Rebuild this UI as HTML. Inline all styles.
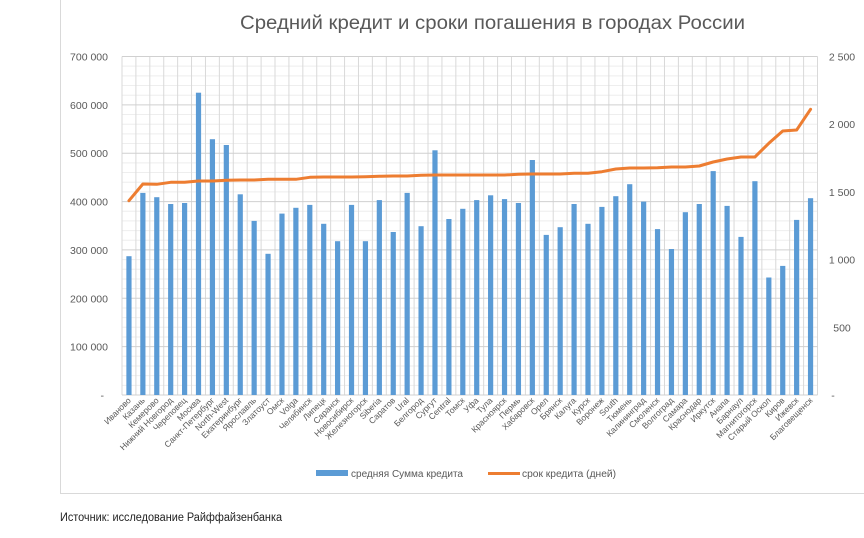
<!DOCTYPE html>
<html><head><meta charset="utf-8"><style>
html,body{margin:0;padding:0;background:#fff;width:864px;height:538px;overflow:hidden}
svg{display:block}
text{font-family:"Liberation Sans","Noto Sans CJK SC",sans-serif;fill:#595959}
</style></head><body>
<svg width="864" height="538" viewBox="0 0 864 538" xmlns="http://www.w3.org/2000/svg">
<rect width="864" height="538" fill="#fff"/>
<path d="M60.5 0V493.5H864" fill="none" stroke="#d9d9d9" stroke-width="1"/>
<text x="492.5" y="29" font-size="19" text-anchor="middle" textLength="505" lengthAdjust="spacingAndGlyphs">Средний кредит и сроки погашения в городах России</text>
<!-- minor gridlines -->
<path stroke="#eeeeee" stroke-width="1" fill="none" d="M122 66.17H817.5M122 75.84H817.5M122 85.52H817.5M122 95.19H817.5M122 114.53H817.5M122 124.2H817.5M122 133.87H817.5M122 143.54H817.5M122 162.88H817.5M122 172.55H817.5M122 182.23H817.5M122 191.9H817.5M122 211.24H817.5M122 220.91H817.5M122 230.58H817.5M122 240.26H817.5M122 259.6H817.5M122 269.27H817.5M122 278.94H817.5M122 288.61H817.5M122 307.96H817.5M122 317.63H817.5M122 327.3H817.5M122 336.97H817.5M122 356.31H817.5M122 365.98H817.5M122 375.66H817.5M122 385.33H817.5"/>
<!-- vertical gridlines -->
<path stroke="#d9d9d9" stroke-width="1" fill="none" d="M122 56.5V395M135.91 56.5V395M149.82 56.5V395M163.73 56.5V395M177.64 56.5V395M191.55 56.5V395M205.46 56.5V395M219.37 56.5V395M233.28 56.5V395M247.19 56.5V395M261.1 56.5V395M275.01 56.5V395M288.92 56.5V395M302.83 56.5V395M316.74 56.5V395M330.65 56.5V395M344.56 56.5V395M358.47 56.5V395M372.38 56.5V395M386.29 56.5V395M400.2 56.5V395M414.11 56.5V395M428.02 56.5V395M441.93 56.5V395M455.84 56.5V395M469.75 56.5V395M483.66 56.5V395M497.57 56.5V395M511.48 56.5V395M525.39 56.5V395M539.3 56.5V395M553.21 56.5V395M567.12 56.5V395M581.03 56.5V395M594.94 56.5V395M608.85 56.5V395M622.76 56.5V395M636.67 56.5V395M650.58 56.5V395M664.49 56.5V395M678.4 56.5V395M692.31 56.5V395M706.22 56.5V395M720.13 56.5V395M734.04 56.5V395M747.95 56.5V395M761.86 56.5V395M775.77 56.5V395M789.68 56.5V395M803.59 56.5V395M817.5 56.5V395"/>
<!-- major gridlines -->
<path stroke="#d0d0d0" stroke-width="1" fill="none" d="M122 56.5H817.5M122 104.86H817.5M122 153.21H817.5M122 201.57H817.5M122 249.93H817.5M122 298.29H817.5M122 346.64H817.5M122 395H817.5"/>
<!-- left axis labels -->
<g font-size="10.5" text-anchor="end">
<text x="108" y="60.5">700 000</text>
<text x="108" y="108.9">600 000</text>
<text x="108" y="157.2">500 000</text>
<text x="108" y="205.6">400 000</text>
<text x="108" y="253.9">300 000</text>
<text x="108" y="302.3">200 000</text>
<text x="108" y="350.6">100 000</text>
<text x="104" y="399">-</text>
</g>
<!-- right axis labels -->
<g font-size="10.5" text-anchor="middle">
<text x="842" y="60.5">2 500</text>
<text x="842" y="128.2">2 000</text>
<text x="842" y="195.9">1 500</text>
<text x="842" y="263.6">1 000</text>
<text x="842" y="331.3">500</text>
<text x="833" y="399">-</text>
</g>
<!-- bars -->
<g fill="#5b9bd5">
<rect x="126.36" y="256.2" width="5.2" height="138.8"/>
<rect x="140.27" y="192.9" width="5.2" height="202.1"/>
<rect x="154.18" y="197.2" width="5.2" height="197.8"/>
<rect x="168.09" y="204.0" width="5.2" height="191.0"/>
<rect x="182.0" y="203.0" width="5.2" height="192.0"/>
<rect x="195.91" y="92.7" width="5.2" height="302.3"/>
<rect x="209.82" y="139.2" width="5.2" height="255.8"/>
<rect x="223.73" y="145.0" width="5.2" height="250.0"/>
<rect x="237.64" y="194.3" width="5.2" height="200.7"/>
<rect x="251.55" y="220.9" width="5.2" height="174.1"/>
<rect x="265.46" y="253.8" width="5.2" height="141.2"/>
<rect x="279.37" y="213.6" width="5.2" height="181.4"/>
<rect x="293.28" y="207.8" width="5.2" height="187.2"/>
<rect x="307.19" y="204.9" width="5.2" height="190.1"/>
<rect x="321.1" y="223.8" width="5.2" height="171.2"/>
<rect x="335.01" y="241.2" width="5.2" height="153.8"/>
<rect x="348.92" y="204.9" width="5.2" height="190.1"/>
<rect x="362.83" y="241.2" width="5.2" height="153.8"/>
<rect x="376.74" y="200.1" width="5.2" height="194.9"/>
<rect x="390.65" y="232.0" width="5.2" height="163.0"/>
<rect x="404.56" y="192.9" width="5.2" height="202.1"/>
<rect x="418.47" y="226.2" width="5.2" height="168.8"/>
<rect x="432.38" y="150.3" width="5.2" height="244.7"/>
<rect x="446.29" y="219.0" width="5.2" height="176.0"/>
<rect x="460.2" y="208.8" width="5.2" height="186.2"/>
<rect x="474.11" y="200.1" width="5.2" height="194.9"/>
<rect x="488.02" y="195.3" width="5.2" height="199.7"/>
<rect x="501.93" y="199.1" width="5.2" height="195.9"/>
<rect x="515.84" y="203.0" width="5.2" height="192.0"/>
<rect x="529.75" y="160.0" width="5.2" height="235.0"/>
<rect x="543.66" y="234.9" width="5.2" height="160.1"/>
<rect x="557.57" y="227.2" width="5.2" height="167.8"/>
<rect x="571.48" y="204.0" width="5.2" height="191.0"/>
<rect x="585.39" y="223.8" width="5.2" height="171.2"/>
<rect x="599.3" y="206.9" width="5.2" height="188.1"/>
<rect x="613.21" y="196.2" width="5.2" height="198.8"/>
<rect x="627.12" y="184.2" width="5.2" height="210.8"/>
<rect x="641.03" y="201.6" width="5.2" height="193.4"/>
<rect x="654.94" y="229.1" width="5.2" height="165.9"/>
<rect x="668.85" y="249.0" width="5.2" height="146.0"/>
<rect x="682.76" y="212.2" width="5.2" height="182.8"/>
<rect x="696.67" y="204.0" width="5.2" height="191.0"/>
<rect x="710.58" y="171.1" width="5.2" height="223.9"/>
<rect x="724.49" y="205.9" width="5.2" height="189.1"/>
<rect x="738.4" y="236.9" width="5.2" height="158.1"/>
<rect x="752.31" y="181.2" width="5.2" height="213.8"/>
<rect x="766.22" y="277.5" width="5.2" height="117.5"/>
<rect x="780.13" y="265.9" width="5.2" height="129.1"/>
<rect x="794.04" y="219.9" width="5.2" height="175.1"/>
<rect x="807.95" y="198.2" width="5.2" height="196.8"/>
</g>
<!-- line -->
<polyline fill="none" stroke="#ed7d31" stroke-width="3" stroke-linejoin="round" stroke-linecap="round" points="128.96,200.7 142.87,184 156.78,184.3 170.69,182.3 184.6,182.3 198.51,181 212.42,181 226.33,180.3 240.24,180 254.15,180 268.06,179.3 281.97,179.3 295.88,179.3 309.79,177.3 323.7,177 337.61,177 351.52,177 365.43,176.7 379.34,176.3 393.25,176 407.16,176 421.07,175.3 434.98,175 448.89,175 462.8,175 476.71,175 490.62,175 504.53,175 518.44,174.3 532.35,174 546.26,174 560.17,174 574.08,173.3 587.99,173.3 601.9,171.7 615.81,169 629.72,168 643.63,168 657.54,167.7 671.45,167 685.36,167 699.27,166 713.18,162 727.09,159 741,157 754.91,157 768.82,143.3 782.73,131 796.64,130 810.55,109.3"/>
<!-- x labels -->
<g font-size="8.5" text-anchor="end">
<text transform="translate(131.5,401) rotate(-45)">Иваново</text>
<text transform="translate(145.4,401) rotate(-45)">Казань</text>
<text transform="translate(159.3,401) rotate(-45)">Кемерово</text>
<text transform="translate(173.2,401) rotate(-45)">Нижний Новгород</text>
<text transform="translate(187.1,401) rotate(-45)">Череповец</text>
<text transform="translate(201.0,401) rotate(-45)">Москва</text>
<text transform="translate(214.9,401) rotate(-45)">Санкт-Петербург</text>
<text transform="translate(228.8,401) rotate(-45)">North-West</text>
<text transform="translate(242.7,401) rotate(-45)">Екатеринбург</text>
<text transform="translate(256.7,401) rotate(-45)">Ярославль</text>
<text transform="translate(270.6,401) rotate(-45)">Златоуст</text>
<text transform="translate(284.5,401) rotate(-45)">Омск</text>
<text transform="translate(298.4,401) rotate(-45)">Volga</text>
<text transform="translate(312.3,401) rotate(-45)">Челябинск</text>
<text transform="translate(326.2,401) rotate(-45)">Липецк</text>
<text transform="translate(340.1,401) rotate(-45)">Саранск</text>
<text transform="translate(354.0,401) rotate(-45)">Новосибирск</text>
<text transform="translate(367.9,401) rotate(-45)">Железногорск</text>
<text transform="translate(381.8,401) rotate(-45)">Siberia</text>
<text transform="translate(395.8,401) rotate(-45)">Саратов</text>
<text transform="translate(409.7,401) rotate(-45)">Ural</text>
<text transform="translate(423.6,401) rotate(-45)">Белгород</text>
<text transform="translate(437.5,401) rotate(-45)">Сургут</text>
<text transform="translate(451.4,401) rotate(-45)">Central</text>
<text transform="translate(465.3,401) rotate(-45)">Томск</text>
<text transform="translate(479.2,401) rotate(-45)">Уфа</text>
<text transform="translate(493.1,401) rotate(-45)">Тула</text>
<text transform="translate(507.0,401) rotate(-45)">Красноярск</text>
<text transform="translate(520.9,401) rotate(-45)">Пермь</text>
<text transform="translate(534.9,401) rotate(-45)">Хабаровск</text>
<text transform="translate(548.8,401) rotate(-45)">Орел</text>
<text transform="translate(562.7,401) rotate(-45)">Брянск</text>
<text transform="translate(576.6,401) rotate(-45)">Калуга</text>
<text transform="translate(590.5,401) rotate(-45)">Курск</text>
<text transform="translate(604.4,401) rotate(-45)">Воронеж</text>
<text transform="translate(618.3,401) rotate(-45)">South</text>
<text transform="translate(632.2,401) rotate(-45)">Тюмень</text>
<text transform="translate(646.1,401) rotate(-45)">Калининград</text>
<text transform="translate(660.0,401) rotate(-45)">Смоленск</text>
<text transform="translate(674.0,401) rotate(-45)">Волгоград</text>
<text transform="translate(687.9,401) rotate(-45)">Самара</text>
<text transform="translate(701.8,401) rotate(-45)">Краснодар</text>
<text transform="translate(715.7,401) rotate(-45)">Иркутск</text>
<text transform="translate(729.6,401) rotate(-45)">Анапа</text>
<text transform="translate(743.5,401) rotate(-45)">Барнаул</text>
<text transform="translate(757.4,401) rotate(-45)">Магнитогорск</text>
<text transform="translate(771.3,401) rotate(-45)">Старый Оскол</text>
<text transform="translate(785.2,401) rotate(-45)">Киров</text>
<text transform="translate(799.1,401) rotate(-45)">Ижевск</text>
<text transform="translate(813.1,401) rotate(-45)">Благовещенск</text>
</g>
<!-- legend -->
<rect x="316" y="470" width="32" height="6" fill="#5b9bd5"/>
<text x="351" y="477" font-size="10" textLength="112" lengthAdjust="spacingAndGlyphs">средняя Сумма  кредита</text>
<line x1="488" y1="473.5" x2="520" y2="473.5" stroke="#ed7d31" stroke-width="3"/>
<text x="522" y="477" font-size="10" textLength="94" lengthAdjust="spacingAndGlyphs">срок кредита (дней)</text>
<!-- source -->
<text x="60" y="521" font-size="11.5" style="fill:#222" textLength="222" lengthAdjust="spacingAndGlyphs">Источник: исследование Райффайзенбанка</text>
</svg>
</body></html>
